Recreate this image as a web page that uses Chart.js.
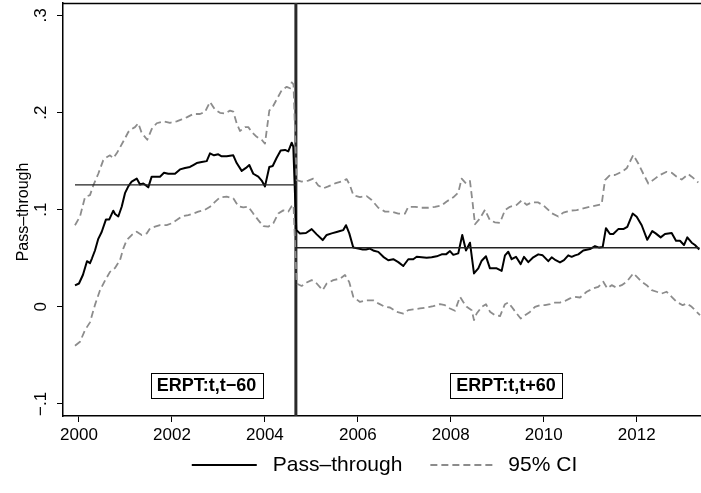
<!DOCTYPE html>
<html><head><meta charset="utf-8">
<script src="https://cdn.jsdelivr.net/npm/chart.js@4.4.1/dist/chart.umd.min.js"></script>
<style>html,body{margin:0;padding:0;background:#fff;}#wrap{width:701px;height:493px;}</style>
</head><body><div id="wrap"><canvas id="c" width="701" height="493"></canvas></div>
<script>
// ---- data (decimal years / values) ----
const xTickYears = [2000, 2002, 2004, 2006, 2008, 2010, 2012];
const yTickValues = [-0.1, 0, 0.1, 0.2, 0.3];
const yTickLabels = ['\u2212.1', '0', '.1', '.2', '.3'];
const breakYear = 2004.667;
const meanBefore = 0.1255;
const meanAfter = 0.0608;
const meanStart = 1999.914;
const meanEnd = 2013.35;
const boxLabels = ['ERPT:t,t\u221260', 'ERPT:t,t+60'];
const boxYears = [2002.743, 2009.188];
const boxValue = -0.0807;
const legendLabels = ['Pass\u2013through', '95% CI'];

const ptYears = [
1999.914,2000.000,2000.086,2000.172,2000.237,2000.280,2000.344,2000.415,2000.488,2000.581,
2000.652,2000.738,2000.775,2000.846,2000.919,2000.990,2001.061,2001.134,2001.242,2001.313,
2001.384,2001.442,2001.491,2001.564,2001.672,2001.743,2001.829,2001.921,2002.066,2002.173,
2002.281,2002.388,2002.459,2002.533,2002.640,2002.748,2002.819,2002.905,2002.997,2003.070,
2003.178,2003.320,2003.393,2003.501,2003.593,2003.664,2003.750,2003.858,2003.931,2004.002,
2004.095,2004.168,2004.254,2004.340,2004.433,2004.504,2004.577,2004.611,2004.676,2004.755,
2004.884,2005.007,2005.115,2005.244,2005.330,2005.437,2005.545,2005.616,2005.687,2005.745,
2005.816,2005.902,2006.010,2006.104,2006.175,2006.261,2006.347,2006.440,2006.548,2006.655,
2006.763,2006.870,2006.978,2007.086,2007.193,2007.266,2007.374,2007.482,2007.589,2007.697,
2007.804,2007.897,2007.983,2008.054,2008.161,2008.247,2008.327,2008.413,2008.499,2008.592,
2008.665,2008.757,2008.843,2008.988,2009.095,2009.166,2009.237,2009.310,2009.403,2009.504,
2009.575,2009.668,2009.775,2009.883,2009.977,2010.098,2010.171,2010.257,2010.350,2010.436,
2010.528,2010.601,2010.673,2010.744,2010.851,2010.995,2011.103,2011.195,2011.268,2011.339,
2011.425,2011.496,2011.604,2011.712,2011.798,2011.914,2012.000,2012.108,2012.228,2012.336,
2012.409,2012.516,2012.609,2012.753,2012.846,2012.932,2013.018,2013.089,2013.184,2013.254,
2013.347];
const ptValues = [
0.022,0.024,0.033,0.047,0.045,0.050,0.058,0.070,0.077,0.090,
0.090,0.099,0.0955,0.093,0.103,0.117,0.124,0.129,0.132,0.126,
0.127,0.125,0.123,0.134,0.134,0.134,0.138,0.137,0.137,0.1415,
0.143,0.144,0.146,0.148,0.149,0.150,0.158,0.156,0.157,0.155,
0.155,0.156,0.148,0.140,0.143,0.146,0.137,0.134,0.130,0.124,
0.144,0.145,0.1535,0.161,0.1615,0.160,0.169,0.165,0.079,0.0756,
0.076,0.080,0.0746,0.0687,0.074,0.0756,0.077,0.078,0.079,0.084,
0.0756,0.061,0.060,0.059,0.059,0.060,0.0577,0.0566,0.0515,0.048,
0.049,0.046,0.042,0.049,0.049,0.0515,0.051,0.0505,0.051,0.052,
0.054,0.054,0.0574,0.0535,0.055,0.074,0.058,0.066,0.0344,0.0396,
0.0475,0.052,0.0396,0.0396,0.037,0.053,0.0567,0.049,0.0515,0.044,
0.0515,0.046,0.051,0.054,0.053,0.047,0.051,0.048,0.0457,0.048,
0.053,0.0515,0.053,0.054,0.058,0.0595,0.0625,0.061,0.0615,0.081,
0.075,0.075,0.080,0.080,0.0824,0.096,0.0927,0.084,0.069,0.078,
0.0756,0.0715,0.075,0.076,0.068,0.068,0.0636,0.0715,0.066,0.0636,
0.059];

const ciUpYears = [
1999.914,2000.022,2000.129,2000.237,2000.308,2000.415,2000.523,2000.596,2000.667,2000.738,
2000.811,2000.882,2000.990,2001.061,2001.134,2001.205,2001.276,2001.349,2001.470,2001.564,
2001.672,2001.814,2001.958,2002.102,2002.210,2002.317,2002.459,2002.604,2002.711,2002.819,
2002.926,2003.034,2003.141,2003.249,2003.320,2003.393,2003.464,2003.572,2003.643,2003.716,
2003.824,2003.931,2004.002,2004.095,2004.181,2004.254,2004.362,2004.469,2004.540,2004.577,
2004.616,2004.683,2004.791,2004.934,2005.041,2005.149,2005.257,2005.364,2005.508,2005.652,
2005.760,2005.831,2005.902,2006.046,2006.190,2006.298,2006.440,2006.584,2006.728,2006.870,
2007.014,2007.086,2007.230,2007.374,2007.516,2007.660,2007.804,2007.912,2008.054,2008.161,
2008.234,2008.327,2008.413,2008.471,2008.521,2008.628,2008.736,2008.843,2008.951,2009.059,
2009.166,2009.273,2009.418,2009.525,2009.633,2009.741,2009.883,2010.027,2010.171,2010.313,
2010.421,2010.565,2010.709,2010.851,2010.995,2011.139,2011.247,2011.318,2011.425,2011.533,
2011.677,2011.785,2011.927,2012.034,2012.142,2012.250,2012.394,2012.501,2012.645,2012.753,
2012.861,2012.968,2013.110,2013.184,2013.326];
const ciUpValues = [
0.084,0.093,0.113,0.115,0.125,0.137,0.151,0.154,0.156,0.153,
0.158,0.164,0.1735,0.180,0.183,0.185,0.189,0.179,0.172,0.183,
0.189,0.191,0.1895,0.191,0.193,0.195,0.1985,0.1985,0.2006,0.211,
0.203,0.1997,0.199,0.202,0.201,0.189,0.181,0.185,0.185,0.180,
0.175,0.172,0.168,0.202,0.207,0.2135,0.223,0.2265,0.225,0.231,
0.229,0.1305,0.129,0.130,0.132,0.125,0.122,0.124,0.127,0.129,
0.1315,0.125,0.115,0.113,0.114,0.110,0.102,0.098,0.098,0.096,
0.096,0.103,0.103,0.102,0.102,0.103,0.1045,0.1085,0.1127,0.1175,
0.132,0.127,0.1295,0.1065,0.085,0.091,0.100,0.089,0.087,0.0865,
0.0996,0.103,0.105,0.1095,0.105,0.1075,0.1075,0.103,0.0964,0.093,
0.097,0.099,0.0996,0.1014,0.103,0.1045,0.1057,0.1305,0.1357,0.1357,
0.139,0.1426,0.1563,0.1476,0.137,0.127,0.132,0.1357,0.139,0.138,
0.134,0.131,0.1366,0.134,0.128];

const ciLoYears = [
1999.914,2000.022,2000.129,2000.237,2000.344,2000.452,2000.559,2000.667,2000.775,2000.882,
2000.953,2001.026,2001.134,2001.242,2001.349,2001.457,2001.528,2001.635,2001.743,2001.887,
2001.995,2002.102,2002.210,2002.352,2002.459,2002.567,2002.711,2002.819,2002.926,2003.034,
2003.178,2003.320,2003.428,2003.535,2003.643,2003.750,2003.858,2003.966,2004.073,2004.181,
2004.288,2004.396,2004.504,2004.577,2004.616,2004.683,2004.791,2004.899,2005.007,2005.115,
2005.244,2005.330,2005.472,2005.616,2005.723,2005.816,2005.902,2006.046,2006.190,2006.332,
2006.440,2006.584,2006.692,2006.836,2006.978,2007.086,2007.193,2007.337,2007.482,2007.624,
2007.768,2007.875,2007.983,2008.090,2008.198,2008.269,2008.342,2008.450,2008.499,2008.557,
2008.665,2008.757,2008.843,2008.951,2009.059,2009.166,2009.237,2009.310,2009.418,2009.504,
2009.597,2009.704,2009.812,2009.919,2010.027,2010.134,2010.242,2010.350,2010.457,2010.565,
2010.673,2010.780,2010.924,2011.066,2011.174,2011.281,2011.367,2011.462,2011.555,2011.677,
2011.785,2011.927,2012.000,2012.108,2012.215,2012.323,2012.430,2012.538,2012.645,2012.753,
2012.861,2012.990,2013.076,2013.184,2013.291,2013.362];
const ciLoValues = [
-0.040,-0.036,-0.024,-0.016,0.002,0.017,0.027,0.036,0.040,0.048,
0.060,0.0687,0.0739,0.0773,0.0739,0.0756,0.0808,0.0825,0.0842,0.0842,
0.086,0.0893,0.093,0.0945,0.096,0.098,0.100,0.103,0.108,0.1127,
0.1134,0.1117,0.1037,0.1023,0.103,0.096,0.0893,0.083,0.0825,0.086,
0.096,0.0993,0.098,0.1037,0.105,0.024,0.0215,0.025,0.0275,0.024,
0.0172,0.024,0.0275,0.029,0.0327,0.0254,0.0103,0.005,0.0067,0.0067,
0.0035,0.000,-0.0007,-0.0052,-0.0069,-0.0034,-0.0027,-0.0017,-0.0007,0.0007,
0.0027,0.0017,-0.0017,-0.0041,0.0103,0.005,0.000,-0.0034,-0.0137,-0.0069,
0.000,0.0027,-0.005,-0.0086,-0.0095,0.0027,0.0044,0.000,-0.0069,-0.012,
-0.0086,-0.0052,0.000,0.0017,0.0017,0.0027,0.0044,0.0044,0.006,0.0087,
0.0103,0.0096,0.0155,0.019,0.0206,0.0258,0.019,0.0223,0.020,0.0223,
0.0258,0.0344,0.031,0.0258,0.0223,0.0172,0.0155,0.0137,0.0155,0.0103,
0.005,0.0017,0.0034,0.000,-0.0052,-0.0086];

// ---- chart ----
const FONT = "'Liberation Sans', Arial, Helvetica, sans-serif";
const toXY = (xs, ys) => xs.map((x, i) => ({x: x, y: ys[i]}));
const GRAY = '#8c8c8c';

const overlay = {
  id: 'overlay',
  beforeDatasetsDraw(chart) {
    const {ctx, chartArea: a, scales: {x}} = chart;
    ctx.save();
    ctx.strokeStyle = '#000'; ctx.lineWidth = 1.5;
    ctx.beginPath(); ctx.moveTo(a.left, a.top + 0.5); ctx.lineTo(a.right, a.top + 0.5); ctx.stroke();
    const bx = x.getPixelForValue(breakYear);
    ctx.strokeStyle = '#2a2a2a'; ctx.lineWidth = 3;
    ctx.beginPath(); ctx.moveTo(bx, a.top); ctx.lineTo(bx, a.bottom); ctx.stroke();
    ctx.restore();
  },
  afterDatasetsDraw(chart) {
    const {ctx, scales: {x, y}} = chart;
    ctx.save();
    ctx.font = 'bold 18px ' + FONT;
    ctx.textAlign = 'center'; ctx.textBaseline = 'middle';
    boxLabels.forEach((t, i) => {
      const cx = x.getPixelForValue(boxYears[i]);
      const cy = y.getPixelForValue(boxValue);
      const w = ctx.measureText(t).width + 12, h = 25;
      ctx.fillStyle = '#fff';
      ctx.fillRect(Math.round(cx - w / 2), Math.round(cy - h / 2), Math.round(w), h);
      ctx.strokeStyle = '#000'; ctx.lineWidth = 1;
      ctx.strokeRect(Math.round(cx - w / 2) + 0.5, Math.round(cy - h / 2) + 0.5, Math.round(w), h);
      ctx.fillStyle = '#000';
      ctx.fillText(t, cx, cy + 1);
    });
    ctx.restore();
  },
  afterDraw(chart) {
    const {ctx, scales: {y}} = chart;
    ctx.save();
    ctx.fillStyle = '#000';
    ctx.font = '17px ' + FONT;
    ctx.textAlign = 'center'; ctx.textBaseline = 'alphabetic';
    yTickValues.forEach((v, i) => {
      const py = y.getPixelForValue(v);
      ctx.save(); ctx.translate(46, py); ctx.rotate(-Math.PI / 2);
      ctx.fillText(yTickLabels[i], 0, 0); ctx.restore();
    });
    ctx.font = '16px ' + FONT;
    ctx.save(); ctx.translate(28, 212); ctx.rotate(-Math.PI / 2);
    ctx.fillText('Pass\u2013through', 0, 0); ctx.restore();
    // legend
    ctx.font = '21px ' + FONT;
    const sw = 65, gap = 16, sep = 28;
    const w1 = ctx.measureText(legendLabels[0]).width;
    const w2 = ctx.measureText(legendLabels[1]).width;
    const total = sw + gap + w1 + sep + sw + gap + w2;
    let lx = 386 - total / 2;
    const ly = 465;
    ctx.strokeStyle = '#000'; ctx.lineWidth = 2;
    ctx.beginPath(); ctx.moveTo(lx, ly); ctx.lineTo(lx + sw, ly); ctx.stroke();
    ctx.textAlign = 'left'; ctx.textBaseline = 'middle';
    ctx.fillText(legendLabels[0], lx + sw + gap, ly);
    lx += sw + gap + w1 + sep;
    ctx.strokeStyle = GRAY; ctx.lineWidth = 1.8; ctx.setLineDash([7, 4]);
    ctx.beginPath(); ctx.moveTo(lx, ly); ctx.lineTo(lx + sw, ly); ctx.stroke();
    ctx.setLineDash([]);
    ctx.fillText(legendLabels[1], lx + sw + gap - 3, ly);
    ctx.restore();
  }
};

new Chart(document.getElementById('c'), {
  type: 'line',
  data: {
    datasets: [
      {label: 'meanBefore', data: [{x: meanStart, y: meanBefore}, {x: breakYear, y: meanBefore}],
       borderColor: '#222', borderWidth: 1.3, pointRadius: 0},
      {label: 'meanAfter', data: [{x: breakYear, y: meanAfter}, {x: meanEnd, y: meanAfter}],
       borderColor: '#222', borderWidth: 1.3, pointRadius: 0},
      {label: '95% CI', data: toXY(ciUpYears, ciUpValues), borderColor: GRAY, borderWidth: 1.8,
       borderDash: [7, 4], pointRadius: 0, borderJoinStyle: 'round'},
      {label: '95% CI lower', data: toXY(ciLoYears, ciLoValues), borderColor: GRAY, borderWidth: 1.8,
       borderDash: [7, 4], pointRadius: 0, borderJoinStyle: 'round'},
      {label: 'Pass\u2013through', data: toXY(ptYears, ptValues), borderColor: '#000', borderWidth: 2,
       pointRadius: 0, borderJoinStyle: 'round'}
    ]
  },
  options: {
    responsive: false, animation: false, devicePixelRatio: 1,
    layout: {padding: {left: 0, right: 0, top: 3, bottom: 0}},
    plugins: {legend: {display: false}, tooltip: {enabled: false}},
    elements: {line: {tension: 0, fill: false}},
    scales: {
      x: {
        type: 'linear', min: 1999.656, max: 2013.384,
        afterBuildTicks: s => { s.ticks = xTickYears.map(v => ({value: v})); },
        ticks: {callback: v => String(v), font: {size: 17, family: FONT}, color: '#000',
                padding: 3, maxRotation: 0, autoSkip: false},
        grid: {drawOnChartArea: false, drawTicks: true, tickLength: 6, color: '#000', lineWidth: 1},
        border: {display: true, color: '#000', width: 1.5},
        afterFit: s => { s.height = 77; s.paddingLeft = 0; s.paddingRight = 0; }
      },
      y: {
        type: 'linear', min: -0.1124, max: 0.3128,
        afterBuildTicks: s => { s.ticks = yTickValues.map(v => ({value: v})); },
        ticks: {display: false},
        grid: {drawOnChartArea: false, drawTicks: true, tickLength: 6, color: '#000', lineWidth: 1},
        border: {display: true, color: '#000', width: 1.5},
        afterFit: s => { s.width = 63; s.paddingTop = 0; s.paddingBottom = 0; }
      }
    }
  },
  plugins: [overlay]
});
</script></body></html>
